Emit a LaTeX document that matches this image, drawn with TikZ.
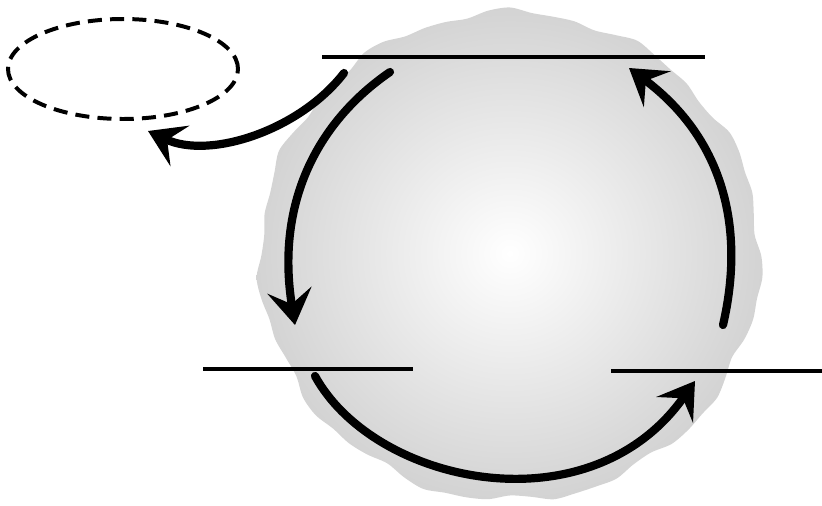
\documentclass[tikz,border=0pt]{standalone}
\usetikzlibrary{arrows.meta,shapes.geometric}
\pgfdeclareradialshading{ball}{\pgfpoint{0bp}{0bp}}{color(0bp)=(white); color(29bp)=(black!20); color(50bp)=(black!20)}
\begin{document}
\begin{tikzpicture}[x=0.3mm, y=-0.3mm,
    flow/.style={line width=7pt, line cap=round, -{Stealth[length=30pt, width=38pt, inset=12pt]}},
    blank/.style={line width=3.4pt},
    store/.style={draw, ellipse, line width=3.4pt, dash pattern=on 12pt off 7pt, minimum width=69mm, minimum height=30mm}
]
\useasboundingbox (0,0) rectangle (822,505);

% blob
\shade[shading=ball] plot[smooth cycle, domain=0:355, samples=72, variable=\t]
    ({510+(250+3*sin(11*\t)+2*sin(23*\t+40))*cos(\t)}, {256+(244+3*sin(11*\t)+2*sin(23*\t+40))*sin(\t)});

% empty label lines
\coordinate (top1) at (322,57);  \coordinate (top2) at (705,57);
\coordinate (left1) at (203,369); \coordinate (left2) at (413,369);
\coordinate (right1) at (611,371); \coordinate (right2) at (822,371);
\draw[blank] (top1) -- (top2);
\draw[blank] (left1) -- (left2);
\draw[blank] (right1) -- (right2);

\node[store] (store) at (123,69) {};

% arrow ends
\coordinate (a1) at (344,73);  \coordinate (b1) at (148,131);
\coordinate (a2) at (390,72);  \coordinate (b2) at (295,325);
\coordinate (a3) at (315,376); \coordinate (b3) at (695,381);
\coordinate (a4) at (723,325); \coordinate (b4) at (629,68);

\draw[flow] (a1) .. controls (300,130) and (210,160) .. (b1);
\draw[flow] (a2) .. controls (320,120) and (275,200) .. (b2);
\draw[flow] (a3) .. controls (375,485) and (590,530) .. (b3);
\draw[flow] (a4) .. controls (745,230) and (725,140) .. (b4);
\end{tikzpicture}
\end{document}
